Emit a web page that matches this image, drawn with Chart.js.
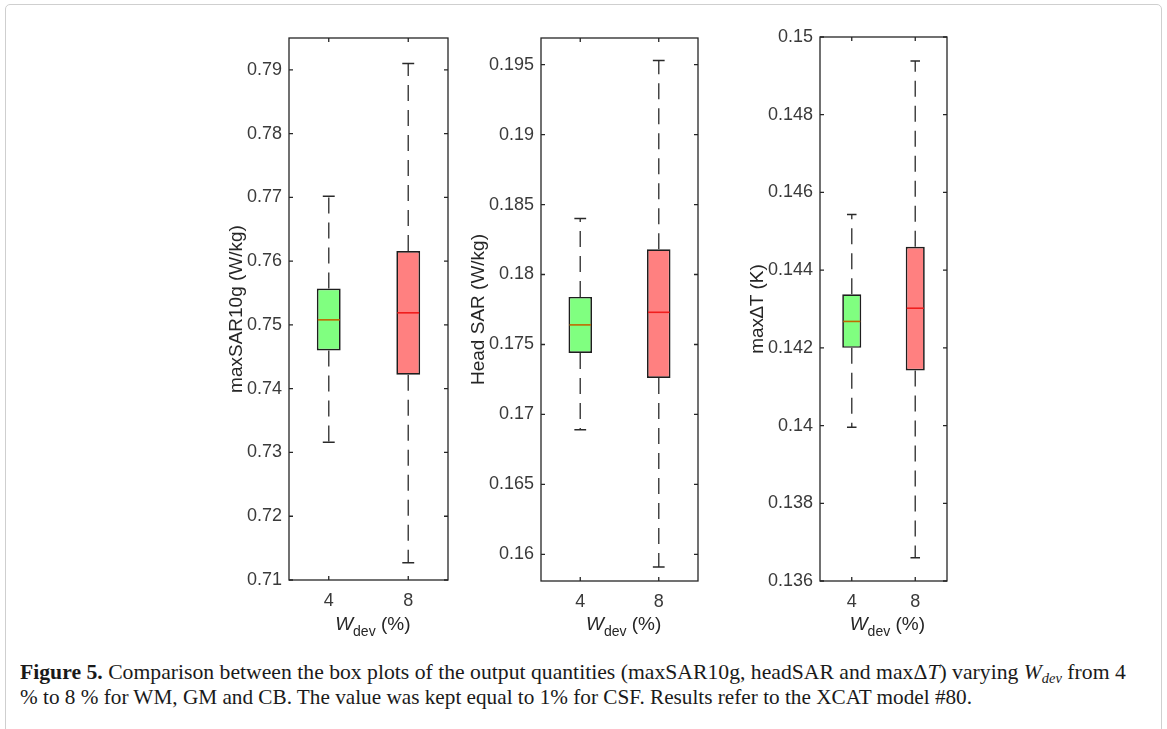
<!DOCTYPE html>
<html>
<head>
<meta charset="utf-8">
<script src="https://cdn.jsdelivr.net/npm/chart.js@4.4.1/dist/chart.umd.min.js"></script>
<style>
  body { margin: 0; width: 1167px; height: 729px; background: #fff; overflow: hidden; position: relative;
         font-family: "Liberation Sans", Arial, sans-serif; }
  .frame { position: absolute; left: 5px; top: 4px; width: 1155px; height: 780px;
           border: 1px solid #cfcfcf; border-radius: 5px; }
  canvas { position: absolute; }
  .xtitle { position: absolute; width: 200px; text-align: center; font-size: 19px; line-height: 22px;
            color: #262626; white-space: nowrap; }
  .xtitle sub { font-size: 14px; vertical-align: -6px; line-height: 0; }
  .caption { position: absolute; left: 20px; font-family: "Liberation Serif", "Times New Roman", serif;
             font-size: 21px; line-height: 25px; color: #1a1a1a; white-space: nowrap; transform-origin: left center; }
  .caption sub { font-size: 14px; vertical-align: -4px; line-height: 0; }
</style>
</head>
<body>
<div class="frame"></div>
<canvas id="sar10g"></canvas>
<canvas id="headSar"></canvas>
<canvas id="deltaT"></canvas>

<div class="caption" id="cap1"><b>Figure 5.</b> Comparison between the box plots of the output quantities (maxSAR10g, headSAR and max&Delta;<i>T</i>) varying <i>W<sub>dev</sub></i> from 4</div>
<div class="caption" id="cap2">% to 8 % for WM, GM and CB. The value was kept equal to 1% for CSF. Results refer to the XCAT model #80.</div>

<script>
// categories (W_dev, %)
const categories = ["4", "8"];

// maxSAR10g (W/kg)
const sar10gMin = [0.7316, 0.7127];
const sar10gQ1 = [0.7460, 0.7422];
const sar10gMedian = [0.7508, 0.7519];
const sar10gQ3 = [0.7557, 0.7616];
const sar10gMax = [0.7702, 0.7910];
const sar10gTicks = [0.71, 0.72, 0.73, 0.74, 0.75, 0.76, 0.77, 0.78, 0.79];

// Head SAR (W/kg)
const headSarMin = [0.1689, 0.1591];
const headSarQ1 = [0.1744, 0.1726];
const headSarMedian = [0.1764, 0.1773];
const headSarQ3 = [0.1784, 0.1818];
const headSarMax = [0.1840, 0.1953];
const headSarTicks = [0.16, 0.165, 0.17, 0.175, 0.18, 0.185, 0.19, 0.195];

// max deltaT (K)
const deltaTMin = [0.13996, 0.1366];
const deltaTQ1 = [0.1420, 0.14142];
const deltaTMedian = [0.14268, 0.14302];
const deltaTQ3 = [0.14338, 0.1446];
const deltaTMax = [0.14543, 0.14938];
const deltaTTicks = [0.136, 0.138, 0.14, 0.142, 0.144, 0.146, 0.148, 0.15];

const boxFill = ["#80ff80", "#ff8080"];
const medianColor = ["#c06a00", "#f01e1e"];

const panels = [
    { id: "sar10g", title: "maxSAR10g (W/kg)", min: sar10gMin, q1: sar10gQ1, med: sar10gMedian, q3: sar10gQ3, max: sar10gMax,
      ticks: sar10gTicks, yMin: 0.71, yMax: 0.795, plot: [289.3, 38.3, 448.3, 580.7], titleGap: 52 },
    { id: "headSar", title: "Head SAR (W/kg)", min: headSarMin, q1: headSarQ1, med: headSarMedian, q3: headSarQ3, max: headSarMax,
      ticks: headSarTicks, yMin: 0.1581, yMax: 0.1969, plot: [541, 38.3, 698.3, 581], titleGap: 62 },
    { id: "deltaT", title: "max\u2206T (K)", min: deltaTMin, q1: deltaTQ1, med: deltaTMedian, q3: deltaTQ3, max: deltaTMax,
      ticks: deltaTTicks, yMin: 0.136, yMax: 0.15, plot: [820, 36.7, 946.7, 581], titleGap: 62 }
];

const axisW = 90, padTop = 20, padRight = 15, axisH = 45;

// whiskers, caps and median drawn from the bar elements and the y scale
const boxParts = {
    id: "boxParts",
    afterDatasetsDraw(chart, args, opts) {
        const ctx = chart.ctx;
        const y = chart.scales.y;
        const p = opts.stats;
        chart.getDatasetMeta(0).data.forEach((bar, i) => {
            const cx = bar.x, w = bar.width;
            const yMax = y.getPixelForValue(p.max[i]), yMin = y.getPixelForValue(p.min[i]);
            ctx.save();
            ctx.strokeStyle = "#454545";
            ctx.lineWidth = 1.5;
            ctx.setLineDash([16, 9]);
            ctx.beginPath();
            ctx.moveTo(cx, y.getPixelForValue(p.q3[i]));
            ctx.lineTo(cx, yMax);
            ctx.moveTo(cx, y.getPixelForValue(p.q1[i]));
            ctx.lineTo(cx, yMin);
            ctx.stroke();
            ctx.setLineDash([]);
            ctx.strokeStyle = "#2a2a2a";
            ctx.beginPath();
            ctx.moveTo(cx - w / 4, yMax); ctx.lineTo(cx + w / 4, yMax);
            ctx.moveTo(cx - w / 4, yMin); ctx.lineTo(cx + w / 4, yMin);
            ctx.stroke();
            const ym = y.getPixelForValue(p.med[i]);
            ctx.strokeStyle = medianColor[i];
            ctx.lineWidth = 1.6;
            ctx.beginPath();
            ctx.moveTo(cx - w / 2 + 1, ym); ctx.lineTo(cx + w / 2 - 1, ym);
            ctx.stroke();
            ctx.restore();
        });
    }
};

// matlab style box with inward ticks
const axesBox = {
    id: "axesBox",
    afterDraw(chart) {
        const {ctx, chartArea: a, scales: {x, y}} = chart;
        ctx.save();
        ctx.strokeStyle = "#262626";
        ctx.lineWidth = 1.3;
        ctx.strokeRect(a.left, a.top, a.right - a.left, a.bottom - a.top);
        ctx.beginPath();
        y.ticks.forEach(t => {
            const py = y.getPixelForValue(t.value);
            ctx.moveTo(a.left, py); ctx.lineTo(a.left + 4, py);
            ctx.moveTo(a.right, py); ctx.lineTo(a.right - 4, py);
        });
        x.ticks.forEach((t, i) => {
            const px = x.getPixelForValue(i);
            ctx.moveTo(px, a.bottom); ctx.lineTo(px, a.bottom - 4);
            ctx.moveTo(px, a.top); ctx.lineTo(px, a.top + 4);
        });
        ctx.stroke();
        ctx.restore();
    }
};

panels.forEach(pn => {
    const [l, t, r, b] = pn.plot;
    const canvas = document.getElementById(pn.id);
    canvas.width = Math.round(axisW + (r - l) + padRight);
    canvas.height = Math.round(padTop + (b - t) + axisH);
    canvas.style.left = (l - axisW) + "px";
    canvas.style.top = (t - padTop) + "px";

    new Chart(canvas, {
        type: "bar",
        data: {
            labels: categories,
            datasets: [{
                data: categories.map((c, i) => [pn.q1[i], pn.q3[i]]),
                backgroundColor: boxFill,
                borderColor: "#1e1e1e",
                borderWidth: 1.7,
                borderSkipped: false,
                barPercentage: 0.3,
                categoryPercentage: 1
            }]
        },
        options: {
            responsive: false,
            animation: false,
            layout: { padding: { top: padTop, right: padRight, left: 0, bottom: 0 } },
            plugins: {
                legend: { display: false },
                tooltip: { enabled: false },
                boxParts: { stats: pn }
            },
            scales: {
                x: {
                    grid: { display: false, drawTicks: false },
                    border: { display: false },
                    ticks: { color: "#3a3a3a", font: { family: "Liberation Sans", size: 18 }, padding: 10 },
                    afterFit: s => { s.height = axisH; }
                },
                y: {
                    min: pn.yMin,
                    max: pn.yMax,
                    grid: { display: false, drawTicks: false },
                    border: { display: false },
                    afterBuildTicks: s => { s.ticks = pn.ticks.map(v => ({ value: v })); },
                    ticks: {
                        color: "#3a3a3a",
                        font: { family: "Liberation Sans", size: 18 },
                        padding: 7,
                        callback: v => String(Number(v.toFixed(4)))
                    },
                    title: {
                        display: true,
                        text: pn.title,
                        color: "#262626",
                        font: { family: "Liberation Sans", size: 19 },
                        padding: { top: axisW - pn.titleGap - 11.4, bottom: 0 }
                    },
                    afterFit: s => { s.width = axisW; }
                }
            }
        },
        plugins: [boxParts, axesBox]
    });

    const xt = document.createElement("div");
    xt.className = "xtitle";
    xt.innerHTML = "<i>W</i><sub>dev</sub> (%)";
    xt.style.left = ((l + r) / 2 + 4 - 100) + "px";
    xt.style.top = "613px";
    document.body.appendChild(xt);
});

// fit caption lines to the reference line widths
const cap1 = document.getElementById("cap1");
const cap2 = document.getElementById("cap2");
cap1.style.top = "660px";
cap2.style.top = "685px";
cap1.style.transform = "scaleX(" + (1106 / cap1.scrollWidth) + ")";
cap2.style.transform = "scaleX(" + (952 / cap2.scrollWidth) + ")";
</script>
</body>
</html>
